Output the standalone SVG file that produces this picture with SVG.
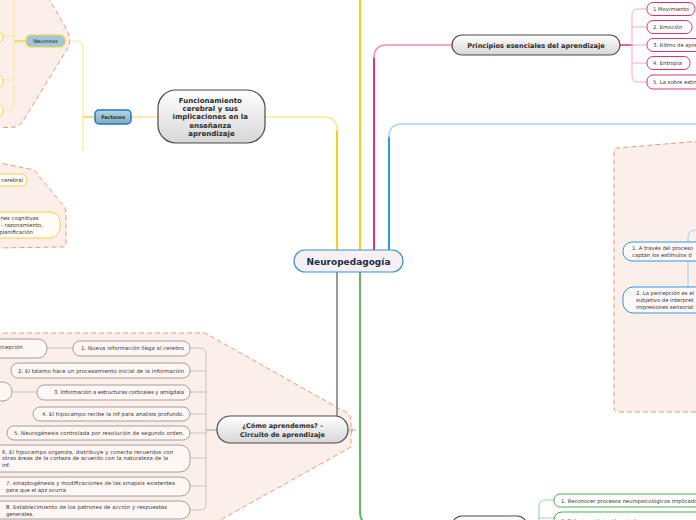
<svg xmlns="http://www.w3.org/2000/svg" width="696" height="520" viewBox="0 0 696 520">
<defs>
<linearGradient id="gGray" x1="0" y1="0" x2="0" y2="1"><stop offset="0" stop-color="#ffffff"/><stop offset="1" stop-color="#d6d6d6"/></linearGradient>
<linearGradient id="gBlue" x1="0" y1="0" x2="0" y2="1"><stop offset="0" stop-color="#b4d6e4"/><stop offset="1" stop-color="#7eaac0"/></linearGradient>
<style>
.bnd{fill:#fcefea;stroke:#ec9a78;stroke-width:1;stroke-dasharray:5 3}
.big{fill:url(#gGray);stroke:#4a4a4a;stroke-width:1.2}
.t{font-family:"DejaVu Sans",Verdana,sans-serif;fill:#333}
.b{font-weight:bold;fill:#2b2b2b}
.s{font-size:5.3px}
.pk{fill:#fff;stroke:#e0336e;stroke-width:1}
.yl{fill:#fffdf6;stroke:#f3d045;stroke-width:1}
.gy{fill:#fdf6f3;stroke:#8a8a8a;stroke-width:0.8}
.bl{fill:#fdf7f5;stroke:#2a9be5;stroke-width:1}
.gn{fill:#fff;stroke:#4caf50;stroke-width:1}
.c{fill:none;stroke-linecap:round}
</style>
</defs>
<rect width="696" height="520" fill="#ffffff"/>

<g id="boundaries">
<path class="bnd" d="M-5,128 L15,127 Q20,126 23,121 L69,46 Q71,40 67,30 L48,-3 L-5,-3 Z"/>
<path class="bnd" d="M-5,162 L34,170 L63,205 Q66,209 66,214 V244 Q66,247 62,247 L-5,248 Z"/>
<path class="bnd" d="M-5,333 H205 L340,409 Q351,413 351,420 V447 L215,523 L-5,523 Z"/>
<path class="bnd" d="M700,141 L618,148 Q614,148 614,152 V408 Q614,412 618,412 H700 Z"/>
</g>

<g id="connectors">
<path class="c" d="M360,0 V250" stroke="#f6d11a" stroke-width="2"/>
<path class="c" d="M337,250 V130" stroke="#f6d11a" stroke-width="2"/>
<path class="c" d="M337,130 Q337,117 324,117 H265" stroke="#fbe7a0" stroke-width="1.6"/>
<path class="c" d="M374,250 V58" stroke="#e5326d" stroke-width="2"/>
<path class="c" d="M374,58 Q374,45 387,45 H452" stroke="#f08db0" stroke-width="1.5"/>
<path class="c" d="M389,250 V137" stroke="#2a9be5" stroke-width="2"/>
<path class="c" d="M389,137 Q389,124 402,124 H696" stroke="#a9d5f2" stroke-width="1.5"/>
<path class="c" d="M337,272 V416" stroke="#9a9a9a" stroke-width="2"/>
<path class="c" d="M360,272 V512 Q360,525 373,525 H452" stroke="#5cb85c" stroke-width="2"/>

<path class="c" d="M620,45 H632" stroke="#e5326d" stroke-width="1.5"/>
<path class="c" d="M647,9 H638 Q632,9 632,15 V76 Q632,82 638,82 H647 M632,27 H647 M632,45 H647 M632,63 H647" stroke="#f4a9c3" stroke-width="1"/>

<path class="c" d="M158,117 H131" stroke="#fbe59a" stroke-width="1.6"/>
<path class="c" d="M95,117 H83" stroke="#f6d44a" stroke-width="1.5"/>
<path class="c" d="M83,150 V48 Q83,41 76,41 H65" stroke="#fbe7a0" stroke-width="1.2"/>
<path class="c" d="M26,41 H14" stroke="#f6d44a" stroke-width="1.6"/>
<path class="c" d="M14,0 V104 Q14,110 8,110 H3 M14,36 H3 M14,80 H3" stroke="#fbe7a0" stroke-width="1.2"/>

<path class="c" d="M217,430 H206" stroke="#9a9a9a" stroke-width="1.2"/>
<path class="c" d="M190,348 H200 Q206,348 206,354 V504 Q206,510 200,510 H190 M190,371 H206 M190,392 H206 M190,414 H206 M190,433 H206 M190,458 H206 M190,486 H206" stroke="#c4c4c4" stroke-width="1"/>
<path class="c" d="M47,348 H73 M12,392 H37" stroke="#c4c4c4" stroke-width="1"/>
<path class="c" d="M348,430 H356 M352,428 V432" stroke="#999" stroke-width="0.8"/>

<path class="c" d="M700,230 H696 Q688,230 688,238 V287" stroke="#a9d5f2" stroke-width="1.2"/>

<path class="c" d="M527,525 H533 Q539,525 539,519 V506 Q539,500 545,500 H554 M539,518 H554" stroke="#a5d6a7" stroke-width="1.2"/>
</g>

<g id="n-central">
<rect x="294" y="250" width="109" height="22" rx="11" fill="#f5f1f2" stroke="#3d8fd4" stroke-width="1.2"/>
<text class="t b" x="348.5" y="264.5" font-size="9" text-anchor="middle" fill="#1c2b4a" style="fill:#1c2b4a">Neuropedagogía</text>
</g>

<g id="n-principios">
<rect class="big" x="452" y="35" width="168" height="20" rx="10"/>
<text class="t b" x="536" y="47.5" font-size="6.6" text-anchor="middle">Principios esenciales del aprendizaje</text>
</g>
<g id="n-p1"><rect class="pk" x="647" y="2.5" width="48" height="13" rx="6"/><text class="t s" x="653" y="10.8">1 Movimiento</text></g>
<g id="n-p2"><rect class="pk" x="647" y="20.5" width="45" height="13" rx="6"/><text class="t s" x="653" y="28.8">2. Emoción</text></g>
<g id="n-p3"><rect class="pk" x="647" y="38.5" width="80" height="13" rx="6"/><text class="t s" x="653" y="46.8">3. Ritmo de aprendizaje</text></g>
<g id="n-p4"><rect class="pk" x="647" y="56.5" width="43" height="13" rx="6"/><text class="t s" x="653" y="64.8">4. Entropía</text></g>
<g id="n-p5"><rect class="pk" x="647" y="75" width="80" height="14" rx="6"/><text class="t s" x="653" y="83.5">5. La sobre estimulación</text></g>

<g id="n-funcionamiento">
<rect class="big" x="158" y="90" width="107" height="53" rx="18"/>
<text class="t b" font-size="7" text-anchor="middle">
<tspan x="211.5" y="103">Funcionamiento</tspan>
<tspan x="211.5" y="111.2">cerebral y sus</tspan>
<tspan x="211.5" y="119.4">implicaciones en la</tspan>
<tspan x="211.5" y="127.6">enseñanza</tspan>
<tspan x="211.5" y="135.8">aprendizaje</tspan>
</text>
</g>

<g id="n-factores">
<rect x="95" y="110" width="36" height="14" rx="4" fill="url(#gBlue)" stroke="#1f78c1" stroke-width="1.5"/>
<text class="t b" x="113" y="119" font-size="4.9" text-anchor="middle">Factores</text>
</g>

<g id="n-neuronas">
<rect x="26" y="35" width="39" height="12" rx="5" fill="#9fc8d6" stroke="#f3d045" stroke-width="1.2"/>
<text class="t" x="45.5" y="43" font-size="5.2" text-anchor="middle" style="fill:#222">Neuronas</text>
</g>
<g id="n-ne1"><rect class="yl" x="-30" y="31" width="33" height="12" rx="6"/></g>
<g id="n-ne2"><rect class="yl" x="-30" y="75" width="33" height="13" rx="6"/></g>
<g id="n-ne3"><rect class="yl" x="-30" y="104" width="33" height="13" rx="6"/></g>

<g id="n-cerebral">
<rect class="yl" x="-40" y="174" width="67" height="12" rx="6"/>
<text class="t s" x="23" y="182" text-anchor="end">cerebral</text>
</g>
<g id="n-cognitivas">
<rect class="yl" x="-60" y="212" width="120" height="26" rx="10"/>
<text class="t s"><tspan x="0.5" y="220">nes cognitivas</tspan><tspan x="1" y="227">- razonamiento,</tspan><tspan x="-0.5" y="234">planificación</tspan></text>
</g>

<g id="n-como">
<rect class="big" x="217" y="416" width="131" height="27" rx="13"/>
<text class="t b" font-size="6.5" text-anchor="middle"><tspan x="282.5" y="428.3">¿Cómo aprendemos? -</tspan><tspan x="282.5" y="437">Circuito de aprendizaje</tspan></text>
</g>
<g id="n-c1"><rect class="gy" x="73" y="341" width="117" height="15" rx="7"/><text class="t s" x="184" y="350.3" text-anchor="end" textLength="103">1. Nueva información llega al cerebro</text></g>
<g id="n-c2"><rect class="gy" x="11" y="363" width="179" height="15" rx="7"/><text class="t s" x="184" y="372.5" text-anchor="end" textLength="166">2. El tálamo hace un procesamiento inicial de la información</text></g>
<g id="n-c3"><rect class="gy" x="37" y="385" width="153" height="15" rx="7"/><text class="t s" x="184" y="394.3" text-anchor="end" textLength="130">3. Información a estructuras corticales y amígdala</text></g>
<g id="n-c4"><rect class="gy" x="33" y="407" width="157" height="14" rx="7"/><text class="t s" x="184" y="416" text-anchor="end" textLength="142">4. El hipocampo recibe la inf para analisis profundo.</text></g>
<g id="n-c5"><rect class="gy" x="7" y="426" width="183" height="14" rx="7"/><text class="t s" x="184" y="435" text-anchor="end" textLength="170">5. Neurogénesis controlada por resolución de segundo orden.</text></g>
<g id="n-c6"><rect class="gy" x="-10" y="445" width="200" height="27" rx="10"/><text class="t s"><tspan x="2" y="453.5" textLength="171">6. El hipocampo organiza, distribuye y conecta recuerdos con</tspan><tspan x="2" y="460.2" textLength="166">otras áreas de la corteza de acuerdo con la naturaleza de la</tspan><tspan x="2" y="466.9">inf.</tspan></text></g>
<g id="n-c7"><rect class="gy" x="-10" y="477" width="200" height="19" rx="9"/><text class="t s"><tspan x="6" y="485" textLength="169">7. sinaptogénesis y modificaciones de las sinapsis existentes</tspan><tspan x="6" y="491.6">para que el apz ocurra</tspan></text></g>
<g id="n-c8"><rect class="gy" x="-10" y="501" width="200" height="18" rx="9"/><text class="t s"><tspan x="6" y="509" textLength="161">8. Establecimiento de los patrones de acción y respuestas</tspan><tspan x="6" y="515.5">generales.</tspan></text></g>
<g id="n-percepcion"><rect class="gy" x="-40" y="339" width="87" height="19" rx="9"/><text class="t s" x="0" y="348.5">rcepción</text></g>
<g id="n-c3left"><rect class="gy" x="-40" y="382" width="52" height="19" rx="9"/></g>

<g id="n-b1"><rect class="bl" x="623" y="242" width="100" height="19" rx="9"/><text class="t s"><tspan x="632" y="250.3">1. A través del proceso</tspan><tspan x="632" y="257">captan los estímulos d</tspan></text></g>
<g id="n-b2"><rect class="bl" x="623" y="287" width="100" height="26" rx="10"/><text class="t s"><tspan x="636" y="295.3">2. La percepción es el</tspan><tspan x="636" y="302">subjetivo de interpret</tspan><tspan x="636" y="308.8">impresiones sensorial</tspan></text></g>

<g id="n-green"><rect class="big" x="452" y="516" width="75" height="20" rx="10"/></g>
<g id="n-g1"><rect class="gn" x="554" y="494" width="160" height="13" rx="6"/><text class="t s" x="561" y="502.5">1. Reconocer procesos neuropsicológicos implicados</text></g>
<g id="n-g2"><rect class="gn" x="554" y="512" width="160" height="20" rx="8"/><text class="t s" x="561" y="522.5">2. Relacionar la incidencia de procesos</text></g>
</svg>
